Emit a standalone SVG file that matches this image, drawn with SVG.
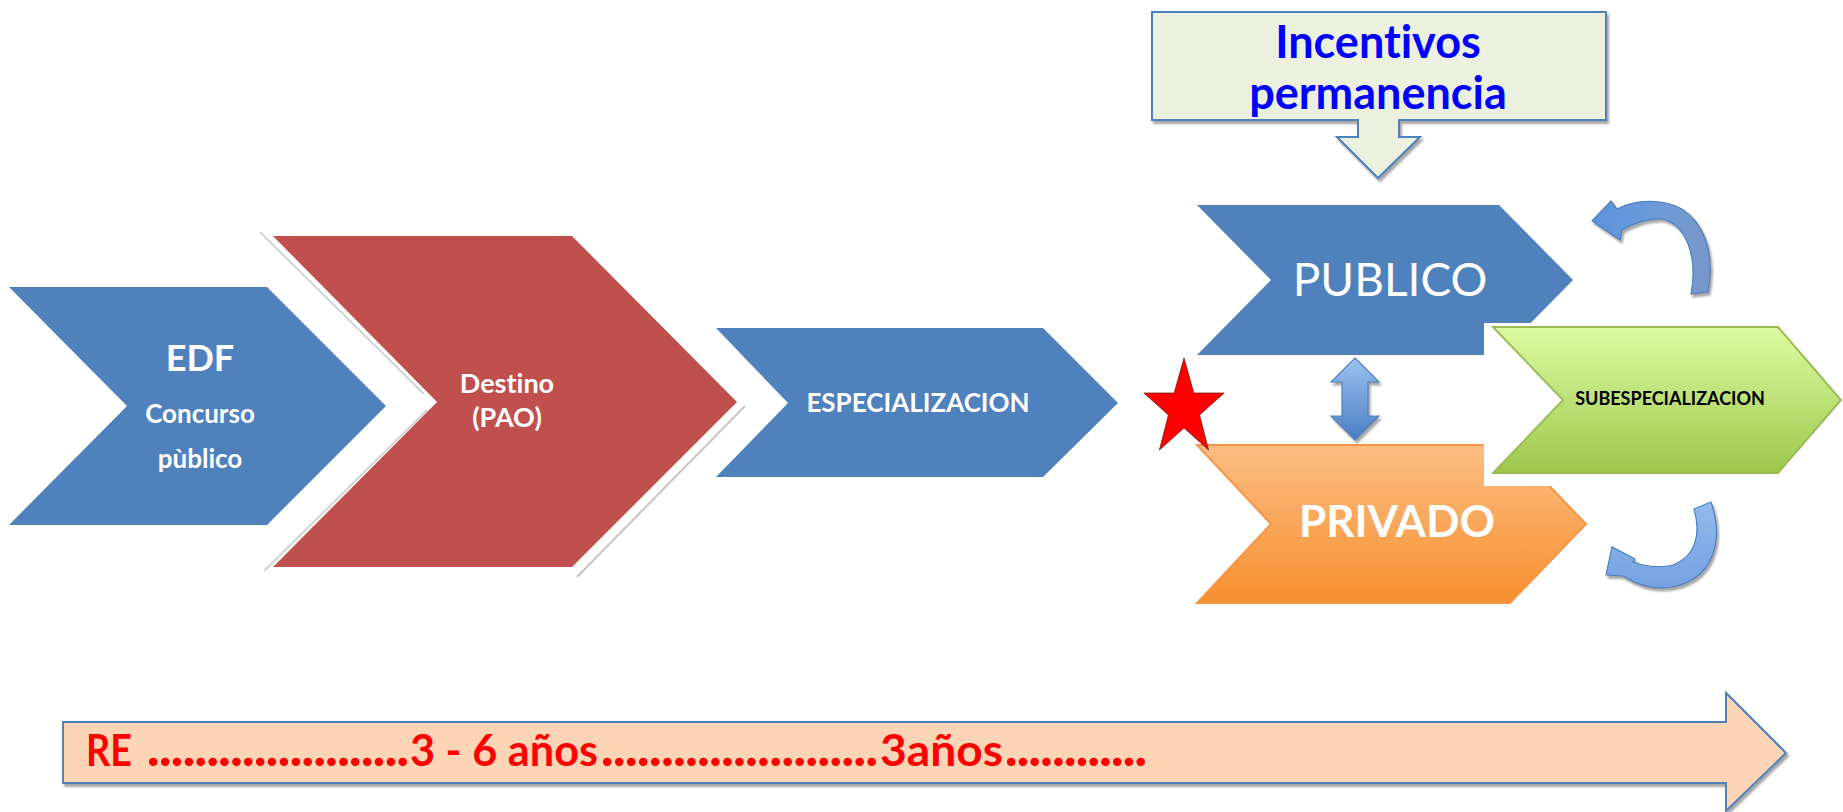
<svg xmlns="http://www.w3.org/2000/svg" width="1843" height="812" viewBox="0 0 1843 812">
  <defs>
    <style>
      text { font-variant-ligatures: none; font-feature-settings: "liga" 0, "clig" 0; }
      .lbl { font-family: Lato, "Open Sans", "Liberation Sans", sans-serif; font-weight: bold; text-anchor: middle; }
      .white { fill: #FFFFFF; }
      .blueChev { fill: #4F81BD; }
      .timeline { font-family: Lato, "Open Sans", "Liberation Sans", sans-serif; font-weight: bold; font-size: 43px; fill: #FF0000; }
      .dots { font-size: 52px; font-weight: 900; }
      .glowLine { fill: none; stroke: #D4D4D4; stroke-width: 2; }
    </style>
    <filter id="softShadow" x="-10%" y="-10%" width="130%" height="130%">
      <feDropShadow dx="2" dy="3" stdDeviation="1.2" flood-color="#808080" flood-opacity="0.7"/>
    </filter>
    <linearGradient id="gradGreen" x1="0" y1="0" x2="0" y2="1">
      <stop offset="0" stop-color="#DDFBA2"/>
      <stop offset="1" stop-color="#9DC74C"/>
    </linearGradient>
    <linearGradient id="gradOrange" x1="0" y1="0" x2="0" y2="1">
      <stop offset="0" stop-color="#FBBD84"/>
      <stop offset="1" stop-color="#F7902F"/>
    </linearGradient>
    <linearGradient id="gradDouble" x1="0" y1="0" x2="0" y2="1">
      <stop offset="0" stop-color="#9CC2F0"/>
      <stop offset="1" stop-color="#4A7EC4"/>
    </linearGradient>
    <linearGradient id="gradCurveTop" x1="0" y1="0" x2="1" y2="0">
      <stop offset="0" stop-color="#5C93DE"/>
      <stop offset="0.6" stop-color="#6E9BD8"/>
      <stop offset="1" stop-color="#7896C8"/>
    </linearGradient>
    <linearGradient id="gradCurveBottom" x1="0" y1="0" x2="0" y2="1">
      <stop offset="0" stop-color="#92BAF0"/>
      <stop offset="1" stop-color="#76A2E2"/>
    </linearGradient>
  </defs>

  <rect x="0" y="0" width="1843" height="812" fill="#FFFFFF"/>

  <!-- faint reflection lines around the red chevron -->
  <g id="edge-lines">
    <path class="glowLine" d="M260,232 L424,394"/>
    <path class="glowLine" d="M427,410 L264,571"/>
    <path class="glowLine" d="M745,406 L577,577" style="stroke:#C6C6C6"/>
  </g>

  <g id="node-edf">
    <polygon class="blueChev" points="9,287 267,287 386,406 267,525 9,525 127,406"/>
    <text class="lbl white" x="200" y="371" font-size="36">EDF</text>
    <text class="lbl white" x="200" y="423" font-size="26">Concurso</text>
    <text class="lbl white" x="200" y="468" font-size="26">pùblico</text>
  </g>

  <g id="node-destino">
    <polygon fill="#C0504D" points="273,236 572,236 737,402 572,567 273,567 437,402"/>
    <text class="lbl white" x="507" y="393" font-size="27">Destino</text>
    <text class="lbl white" x="507" y="427" font-size="27">(PAO)</text>
  </g>

  <g id="node-especializacion">
    <polygon class="blueChev" points="716,328 1043,328 1118,403 1043,477 716,477 788,403"/>
    <text class="lbl white" x="918" y="412" font-size="26">ESPECIALIZACION</text>
  </g>

  <g id="node-incentivos">
    <path d="M1152,12 H1606 V120 H1399 V137 H1420 L1378,178 L1337,137 H1358 V120 H1152 Z" fill="#EBF1DE" stroke="#4F81BD" stroke-width="2" filter="url(#softShadow)"/>
    <text class="lbl" x="1378" y="58" font-size="45" fill="#0000FF">Incentivos</text>
    <text class="lbl" x="1378" y="109" font-size="45" fill="#0000FF">permanencia</text>
  </g>

  <g id="node-publico">
    <polygon class="blueChev" points="1197,205 1499,205 1573,280 1499,355 1197,355 1271,280"/>
    <text x="1390" y="296" font-family="Lato, 'Open Sans', 'Liberation Sans', sans-serif" font-size="46" fill="#FFFFFF" text-anchor="middle">PUBLICO</text>
  </g>

  <g id="node-privado">
    <polygon points="1197,445 1510,445 1586,524 1510,603 1197,603 1271,524" fill="url(#gradOrange)" stroke="#F79646" stroke-width="2"/>
    <text class="lbl white" x="1397" y="537" font-size="44">PRIVADO</text>
  </g>

  <g id="node-star">
    <polygon transform="translate(1184,0) scale(0.82,1) translate(-1184,0)" points="1184,358 1196,393 1233,393 1203,415 1214,450 1184,428 1154,450 1165,415 1135,393 1172,393" fill="#FF0000" stroke="#6B1A1A" stroke-width="0.8"/>
  </g>

  <g id="node-subespecializacion">
    <rect x="1484" y="323" width="359" height="163" fill="#FFFFFF"/>
    <polygon points="1493,327 1778,327 1841,400 1778,473 1493,473 1563,400" fill="url(#gradGreen)" stroke="#9BBB59" stroke-width="2"/>
    <text class="lbl" x="1670" y="405" font-size="18" fill="#000000">SUBESPECIALIZACION</text>
  </g>

  <g id="connectors">
    <!-- two-way arrow between PUBLICO and PRIVADO -->
    <path d="M1355,358 L1379,382 H1368 V416 H1379 L1355,440 L1331,416 H1342 V382 H1331 Z" fill="url(#gradDouble)" stroke="#4F81BD" stroke-width="1.2" filter="url(#softShadow)"/>
    <!-- curved return arrow above -->
    <path d="M1708,292 C1716,250 1702,207 1660,202 C1643,200 1628,203 1617,209 L1611,201 L1592,221 L1620,240 L1622,230 C1634,223 1648,218 1662,219 C1686,224 1698,256 1691,294 Z" fill="url(#gradCurveTop)" stroke="#4F81BD" stroke-width="1.2" filter="url(#softShadow)"/>
    <!-- curved return arrow below -->
    <path d="M1694,509 L1711,502 C1724,540 1714,579 1672,587 C1654,590 1637,585 1623,576 L1606,575 L1612,547 L1635,559 L1633,562 C1647,567 1661,568 1673,565 C1694,557 1702,536 1694,509 Z" fill="url(#gradCurveBottom)" stroke="#4F81BD" stroke-width="1.2" filter="url(#softShadow)"/>
  </g>

  <g id="node-timeline">
    <path d="M63,722 H1726 V693 L1786,753 L1726,811 V783 H63 Z" fill="#FBD5B5" stroke="#4F81BD" stroke-width="2" filter="url(#softShadow)"/>
    <text class="timeline" x="86" y="766" textLength="46" lengthAdjust="spacingAndGlyphs">RE</text>
    <text class="timeline dots" x="147" y="766" textLength="262" lengthAdjust="spacing">......................</text>
    <text class="timeline" x="410" y="766" textLength="188" lengthAdjust="spacingAndGlyphs">3 - 6 años</text>
    <text class="timeline dots" x="601" y="766" textLength="277" lengthAdjust="spacing">.......................</text>
    <text class="timeline" x="880" y="766" textLength="123" lengthAdjust="spacingAndGlyphs">3años</text>
    <text class="timeline dots" x="1005" y="766" textLength="142" lengthAdjust="spacing">............</text>
  </g>
</svg>
